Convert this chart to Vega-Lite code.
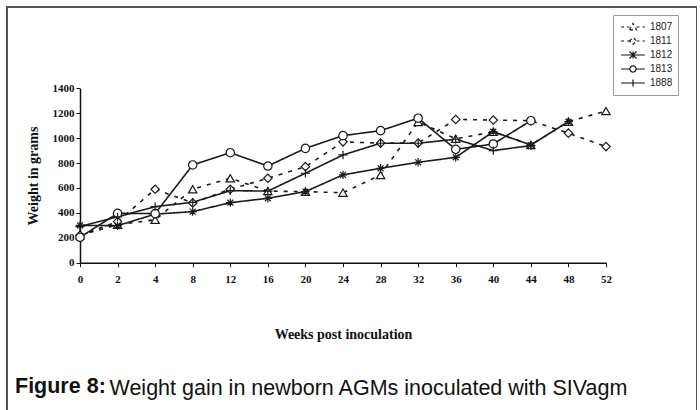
{
  "$schema": "https://vega.github.io/schema/vega-lite/v6.json",
  "autosize": "none",
  "padding": {"left": 7, "top": 7, "right": 0, "bottom": 0},
  "width": 690,
  "height": 405,
  "background": "white",
  "config": {
    "view": {"stroke": "#555", "strokeWidth": 2},
    "axis": {"grid": false}
  },
  "title": {
    "text": "Figure 8:",
    "orient": "bottom",
    "anchor": "start",
    "frame": "group",
    "baseline": "alphabetic",
    "offset": -19,
    "dx": 8,
    "font": "Liberation Sans",
    "fontSize": 21.5,
    "fontWeight": "bold",
    "color": "#111"
  },
  "data": {
    "values": [
      {"animal": "1807", "week": 0, "weight": 220},
      {"animal": "1807", "week": 2, "weight": 305},
      {"animal": "1807", "week": 4, "weight": 345},
      {"animal": "1807", "week": 8, "weight": 590},
      {"animal": "1807", "week": 12, "weight": 678},
      {"animal": "1807", "week": 16, "weight": 575},
      {"animal": "1807", "week": 20, "weight": 570},
      {"animal": "1807", "week": 24, "weight": 562},
      {"animal": "1807", "week": 28, "weight": 704},
      {"animal": "1807", "week": 32, "weight": 1130},
      {"animal": "1807", "week": 36, "weight": 995},
      {"animal": "1807", "week": 40, "weight": 1050},
      {"animal": "1807", "week": 44, "weight": 945},
      {"animal": "1807", "week": 48, "weight": 1132},
      {"animal": "1807", "week": 52, "weight": 1218},
      {"animal": "1811", "week": 0, "weight": 220},
      {"animal": "1811", "week": 2, "weight": 330},
      {"animal": "1811", "week": 4, "weight": 590},
      {"animal": "1811", "week": 8, "weight": 480},
      {"animal": "1811", "week": 12, "weight": 590},
      {"animal": "1811", "week": 16, "weight": 678},
      {"animal": "1811", "week": 20, "weight": 771},
      {"animal": "1811", "week": 24, "weight": 970},
      {"animal": "1811", "week": 28, "weight": 960},
      {"animal": "1811", "week": 32, "weight": 960},
      {"animal": "1811", "week": 36, "weight": 1150},
      {"animal": "1811", "week": 40, "weight": 1145},
      {"animal": "1811", "week": 44, "weight": 1140},
      {"animal": "1811", "week": 48, "weight": 1040},
      {"animal": "1811", "week": 52, "weight": 932},
      {"animal": "1812", "week": 0, "weight": 300},
      {"animal": "1812", "week": 2, "weight": 297},
      {"animal": "1812", "week": 4, "weight": 390},
      {"animal": "1812", "week": 8, "weight": 410},
      {"animal": "1812", "week": 12, "weight": 482},
      {"animal": "1812", "week": 16, "weight": 517},
      {"animal": "1812", "week": 20, "weight": 571},
      {"animal": "1812", "week": 24, "weight": 705},
      {"animal": "1812", "week": 28, "weight": 758},
      {"animal": "1812", "week": 32, "weight": 806},
      {"animal": "1812", "week": 36, "weight": 846},
      {"animal": "1812", "week": 40, "weight": 1052},
      {"animal": "1812", "week": 44, "weight": 945},
      {"animal": "1812", "week": 48, "weight": 1132},
      {"animal": "1813", "week": 0, "weight": 204},
      {"animal": "1813", "week": 2, "weight": 396},
      {"animal": "1813", "week": 4, "weight": 394},
      {"animal": "1813", "week": 8, "weight": 785},
      {"animal": "1813", "week": 12, "weight": 883},
      {"animal": "1813", "week": 16, "weight": 776},
      {"animal": "1813", "week": 20, "weight": 918},
      {"animal": "1813", "week": 24, "weight": 1020},
      {"animal": "1813", "week": 28, "weight": 1060},
      {"animal": "1813", "week": 32, "weight": 1160},
      {"animal": "1813", "week": 36, "weight": 910},
      {"animal": "1813", "week": 40, "weight": 953},
      {"animal": "1813", "week": 44, "weight": 1140},
      {"animal": "1888", "week": 0, "weight": 290},
      {"animal": "1888", "week": 2, "weight": 368},
      {"animal": "1888", "week": 4, "weight": 450},
      {"animal": "1888", "week": 8, "weight": 485},
      {"animal": "1888", "week": 12, "weight": 578},
      {"animal": "1888", "week": 16, "weight": 575},
      {"animal": "1888", "week": 20, "weight": 718},
      {"animal": "1888", "week": 24, "weight": 865},
      {"animal": "1888", "week": 28, "weight": 959},
      {"animal": "1888", "week": 32, "weight": 959},
      {"animal": "1888", "week": 36, "weight": 991},
      {"animal": "1888", "week": 40, "weight": 900},
      {"animal": "1888", "week": 44, "weight": 940}
    ]
  },
  "encoding": {
    "y": {
      "field": "weight",
      "type": "quantitative",
      "scale": {"domain": [0, 1400], "range": [255.7, 81.3], "nice": false},
      "axis": {
        "title": "Weight in grams",
        "format": "d",
        "offset": -73,
        "values": [0, 200, 400, 600, 800, 1000, 1200, 1400],
        "tickSize": 4,
        "labelPadding": 2,
        "labelFont": "Liberation Serif",
        "labelFontWeight": "bold",
        "labelFontSize": 11,
        "labelColor": "#111",
        "titleFont": "Liberation Serif",
        "titleFontSize": 14,
        "titleFontWeight": "bold",
        "titleColor": "#111",
        "titlePadding": 12,
        "domainColor": "#111",
        "domainWidth": 1.5,
        "tickColor": "#111"
      }
    }
  },
  "layer": [
    {
      "mark": {"type": "line", "stroke": "#1a1a1a", "strokeWidth": 1.6},
      "encoding": {
        "x": {
          "field": "week",
          "type": "ordinal",
          "scale": {"type": "point", "domain": [0, 2, 4, 8, 12, 16, 20, 24, 28, 32, 36, 40, 44, 48, 52], "range": [73, 599], "padding": 0},
          "axis": {
            "title": "Weeks post inoculation",
            "offset": -149.3,
            "labelAngle": 0,
            "tickSize": 4,
            "labelPadding": 7,
            "labelFont": "Liberation Serif",
            "labelFontWeight": "bold",
            "labelFontSize": 11,
            "labelColor": "#111",
            "titleFont": "Liberation Serif",
            "titleFontSize": 14,
            "titleFontWeight": "bold",
            "titleColor": "#111",
            "titlePadding": 43,
            "domainColor": "#111",
            "domainWidth": 1.5,
            "tickColor": "#111"
          }
        },
        "strokeDash": {
          "field": "animal",
          "type": "nominal",
          "scale": {"domain": ["1807", "1811", "1812", "1813", "1888"], "range": [[4, 6], [4, 6], [1, 0], [1, 0], [1, 0]]},
          "legend": null
        }
      }
    },
    {
      "mark": {"type": "point", "filled": true, "fill": "white", "stroke": "#1a1a1a", "strokeWidth": 1.2, "size": 70, "opacity": 1},
      "encoding": {
        "x": {
          "field": "week",
          "type": "ordinal",
          "scale": {"type": "point", "domain": [0, 2, 4, 8, 12, 16, 20, 24, 28, 32, 36, 40, 44, 48, 52], "range": [73, 599], "padding": 0},
          "axis": {
            "title": "Weight gain in newborn AGMs inoculated with SIVagm",
            "labels": false,
            "ticks": false,
            "domain": false,
            "offset": -149.3,
            "titleX": 102,
            "titleY": 238,
            "titleAlign": "left",
            "titleAnchor": "start",
            "titleBaseline": "alphabetic",
            "titleFont": "Liberation Sans",
            "titleFontSize": 21.5,
            "titleFontWeight": "normal",
            "titleColor": "#111"
          }
        },
        "shape": {
          "field": "animal",
          "type": "nominal",
          "scale": {"domain": ["1807", "1811", "1812", "1813", "1888"], "range": ["triangle-up", "diamond", "M-1,0H1M0,-1V1M-0.7,-0.7L0.7,0.7M-0.7,0.7L0.7,-0.7", "circle", "M-1.1,0H1.1M0,-1V1"]},
          "legend": null
        }
      }
    },
    {
      "transform": [{"filter": {"field": "week", "lt": 0}}],
      "mark": {"type": "point", "filled": false, "stroke": "#111", "strokeWidth": 1.2},
      "encoding": {
        "x": {
          "field": "week",
          "type": "ordinal",
          "scale": {"type": "point", "domain": [0, 2, 4, 8, 12, 16, 20, 24, 28, 32, 36, 40, 44, 48, 52], "range": [73, 599], "padding": 0},
          "axis": null
        },
        "shape": {
          "field": "animal",
          "type": "nominal",
          "scale": {"domain": ["1807", "1811", "1812", "1813", "1888"], "range": [
            "M-0.85,0H-0.25M0.25,0H0.85M-0.25,0.2L0,-0.25L0.25,0.2Z",
            "M-0.85,0H-0.25M0.25,0H0.85M-0.25,0L0,-0.25L0.25,0L0,0.25Z",
            "M-0.85,0H0.85M-0.25,-0.25L0.25,0.25M-0.25,0.25L0.25,-0.25M0,-0.25V0.25",
            "M-0.85,0H-0.22M0.22,0H0.85M0.22,0A0.22,0.22,0,1,1,-0.22,0A0.22,0.22,0,1,1,0.22,0Z",
            "M-0.85,0H0.85M0,-0.25V0.25"
          ]},
          "legend": {
            "orient": "none",
            "legendX": 606,
            "legendY": 8,
            "title": null,
            "padding": 5,
            "strokeColor": "#999",
            "fillColor": "white",
            "labelFont": "Liberation Sans",
            "labelFontSize": 10,
            "labelColor": "#222",
            "symbolSize": 784,
            "clipHeight": 14,
            "rowPadding": 0,
            "labelOffset": 2,
            "symbolStrokeWidth": 1.2,
            "symbolStrokeColor": "#111",
            "symbolFillColor": "white",
            "symbolOpacity": 1
          }
        },
        "strokeDash": {
          "field": "animal",
          "type": "nominal",
          "scale": {"domain": ["1807", "1811", "1812", "1813", "1888"], "range": [[3, 3], [3, 3], [1, 0], [1, 0], [1, 0]]},
          "legend": {
            "orient": "none",
            "legendX": 606,
            "legendY": 8,
            "title": null,
            "padding": 5,
            "strokeColor": "#999",
            "fillColor": "white",
            "labelFont": "Liberation Sans",
            "labelFontSize": 10,
            "labelColor": "#222",
            "symbolSize": 784,
            "clipHeight": 14,
            "rowPadding": 0,
            "labelOffset": 2,
            "symbolStrokeWidth": 1.2,
            "symbolStrokeColor": "#111",
            "symbolFillColor": "white",
            "symbolOpacity": 1
          }
        }
      }
    }
  ],
  "resolve": {
    "scale": {"shape": "independent", "strokeDash": "independent"},
    "axis": {"x": "independent"},
    "legend": {"shape": "independent", "strokeDash": "independent"}
  }
}
